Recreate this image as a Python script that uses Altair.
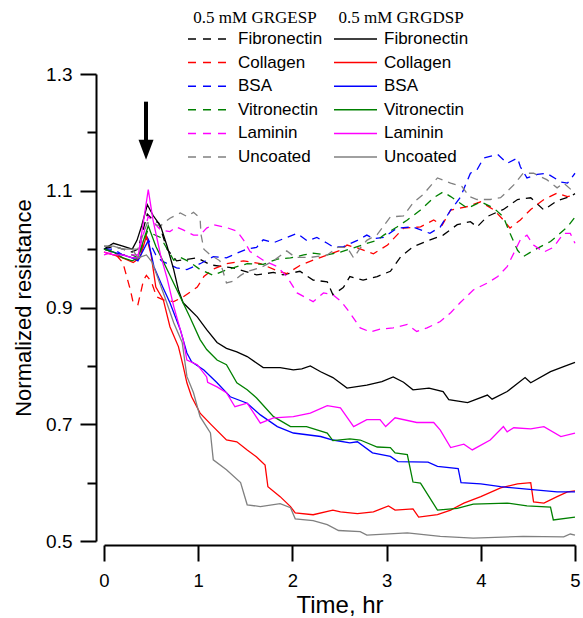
import altair as alt
import pandas as pd

coatings = ["Fibronectin", "Collagen", "BSA", "Vitronectin", "Laminin", "Uncoated"]
colors = ["#000000", "#ff0000", "#0000ff", "#008000", "#ff00ff", "#808080"]

# ---------------- 0.5 mM GRGDSP (solid) ----------------
dsp_fibronectin_t = [0, 0.1, 0.2, 0.3, 0.35, 0.4, 0.46, 0.52, 0.6, 0.67, 0.74, 0.79, 0.84, 0.99, 1.09,
                     1.2, 1.3, 1.41, 1.52, 1.69, 1.87, 2.01, 2.1, 2.19, 2.3, 2.43, 2.58, 2.79, 2.95, 3.07,
                     3.18, 3.28, 3.45, 3.6, 3.66, 3.86, 4.07, 4.12, 4.28, 4.47, 4.53, 4.74, 4.9, 5.0]
dsp_fibronectin_v = [1.0, 1.01, 1.005, 1.0, 1.015, 1.04, 1.076, 1.058, 1.04, 1.005, 0.965, 0.93, 0.908, 0.884, 0.862,
                     0.84, 0.83, 0.824, 0.816, 0.797, 0.797, 0.793, 0.795, 0.80, 0.79, 0.78, 0.762, 0.767, 0.773, 0.781,
                     0.772, 0.759, 0.762, 0.756, 0.742, 0.737, 0.75, 0.743, 0.756, 0.78, 0.771, 0.79, 0.80, 0.806]

dsp_collagen_t = [0, 0.1, 0.2, 0.31, 0.38, 0.45, 0.5, 0.55, 0.63, 0.70, 0.79, 0.84, 0.88, 0.93, 1.02,
                  1.14, 1.3, 1.41, 1.52, 1.62, 1.71, 1.74, 1.87, 1.98, 2.03, 2.22, 2.43, 2.51, 2.69, 2.86,
                  3.02, 3.09, 3.28, 3.34, 3.54, 3.68, 3.82, 4.0, 4.21, 4.39, 4.53, 4.56, 4.67, 4.81, 4.92, 5.0]
dsp_collagen_v = [0.995, 0.99, 0.985, 0.977, 0.985, 1.022, 0.99, 0.935, 0.913, 0.867, 0.833, 0.80, 0.771, 0.747, 0.719,
                  0.699, 0.673, 0.67, 0.656, 0.644, 0.63, 0.593, 0.576, 0.559, 0.548, 0.545, 0.553, 0.55, 0.547, 0.55,
                  0.56, 0.553, 0.555, 0.541, 0.545, 0.553, 0.565, 0.576, 0.591, 0.598, 0.60, 0.567, 0.565, 0.576, 0.584, 0.586]

dsp_bsa_t = [0, 0.1, 0.2, 0.3, 0.36, 0.47, 0.53, 0.61, 0.70, 0.81, 0.88, 0.93, 1.06, 1.2, 1.34,
             1.52, 1.66, 1.84, 2.01, 2.3, 2.43, 2.61, 2.69, 2.85, 3.04, 3.12, 3.44, 3.54, 3.76, 3.79,
             4.0, 4.21, 4.49, 4.81, 5.0]
dsp_bsa_v = [1.0, 0.995, 0.99, 0.985, 0.98, 1.015, 0.97, 0.94, 0.908, 0.862, 0.822, 0.807, 0.793, 0.771, 0.747,
             0.736, 0.716, 0.696, 0.685, 0.679, 0.673, 0.668, 0.67, 0.651, 0.645, 0.636, 0.635, 0.628, 0.624, 0.60,
             0.598, 0.593, 0.589, 0.584, 0.584]

dsp_vitronectin_t = [0, 0.1, 0.2, 0.3, 0.36, 0.47, 0.55, 0.67, 0.81, 0.91, 1.02, 1.09, 1.2, 1.3, 1.41,
                     1.52, 1.62, 1.8, 1.98, 2.15, 2.37, 2.43, 2.61, 2.72, 2.9, 3.04, 3.09, 3.22, 3.28, 3.36,
                     3.54, 3.75, 3.92, 4.28, 4.49, 4.74, 4.77, 5.0]
dsp_vitronectin_v = [1.0, 0.995, 0.985, 0.98, 0.985, 1.04, 1.005, 0.965, 0.918, 0.884, 0.845, 0.828, 0.81, 0.802, 0.771,
                     0.759, 0.745, 0.713, 0.696, 0.696, 0.685, 0.672, 0.675, 0.673, 0.661, 0.66, 0.651, 0.648, 0.601, 0.599,
                     0.553, 0.556, 0.563, 0.565, 0.56, 0.558, 0.536, 0.541]

dsp_laminin_t = [0, 0.1, 0.2, 0.3, 0.36, 0.47, 0.52, 0.6, 0.67, 0.74, 0.84, 0.88, 0.99, 1.09, 1.1,
                 1.2, 1.3, 1.39, 1.52, 1.66, 1.8, 2.01, 2.19, 2.37, 2.51, 2.65, 2.79, 2.93, 2.99, 3.09,
                 3.32, 3.5, 3.57, 3.68, 3.82, 3.91, 4.1, 4.24, 4.28, 4.35, 4.53, 4.67, 4.85, 5.0]
dsp_laminin_v = [0.995, 0.99, 0.99, 0.985, 0.985, 1.102, 1.05, 0.99, 0.95, 0.902, 0.845, 0.81, 0.802, 0.781, 0.772,
                 0.764, 0.754, 0.73, 0.736, 0.702, 0.711, 0.713, 0.719, 0.732, 0.728, 0.696, 0.708, 0.708, 0.696, 0.711,
                 0.703, 0.703, 0.69, 0.66, 0.666, 0.656, 0.673, 0.696, 0.687, 0.694, 0.692, 0.696, 0.679, 0.685]

dsp_uncoated_t = [0, 0.1, 0.2, 0.3, 0.36, 0.45, 0.51, 0.63, 0.74, 0.83, 0.88, 0.95, 1.02, 1.13, 1.16,
                  1.3, 1.45, 1.52, 1.66, 1.87, 1.98, 2.03, 2.22, 2.37, 2.49, 2.72, 2.79, 3.22, 3.57, 3.92,
                  4.45, 4.88, 4.95, 5.0]
dsp_uncoated_v = [1.005, 1.005, 1.0, 1.0, 0.985, 0.99, 0.978, 0.925, 0.874, 0.84, 0.782, 0.754, 0.713, 0.685, 0.639,
                  0.622, 0.60, 0.562, 0.559, 0.564, 0.557, 0.538, 0.535, 0.528, 0.518, 0.516, 0.51, 0.514, 0.508, 0.505,
                  0.508, 0.507, 0.512, 0.51]

# ---------------- 0.5 mM GRGESP (dashed) ----------------
esp_fibronectin_t = [0, 0.1, 0.2, 0.3, 0.36, 0.46, 0.52, 0.58, 0.67, 0.77, 0.99, 1.13, 1.37, 1.62, 1.8,
                     1.9, 2.08, 2.22, 2.37, 2.43, 2.54, 2.61, 2.75, 2.9, 3.04, 3.15, 3.28, 3.43, 3.6, 3.75,
                     3.89, 3.96, 4.07, 4.24, 4.39, 4.53, 4.67, 4.81, 4.95, 5.0]
esp_fibronectin_v = [1.0, 1.005, 1.0, 0.995, 1.0, 1.06, 1.05, 1.045, 1.0, 0.98, 0.985, 0.973, 0.968, 0.956, 0.96,
                     0.956, 0.962, 0.947, 0.944, 0.922, 0.934, 0.953, 0.947, 0.953, 0.962, 0.987, 1.004, 1.014, 1.024, 1.042,
                     1.047, 1.038, 1.056, 1.068, 1.085, 1.088, 1.067, 1.083, 1.09, 1.095]

esp_collagen_t = [0, 0.1, 0.2, 0.28, 0.31, 0.36, 0.42, 0.45, 0.5, 0.56, 0.63, 0.74, 0.84, 0.99, 1.06,
                  1.16, 1.3, 1.48, 1.66, 1.84, 1.94, 2.08, 2.22, 2.37, 2.51, 2.58, 2.69, 2.86, 3.01, 3.18,
                  3.36, 3.5, 3.59, 3.68, 3.86, 4.0, 4.14, 4.24, 4.31, 4.42, 4.53, 4.67, 4.81, 4.92, 5.0]
esp_collagen_v = [1.0, 0.995, 0.977, 0.93, 0.908, 0.905, 0.947, 0.955, 0.945, 0.918, 0.913, 0.91, 0.918, 0.935, 0.953,
                  0.966, 0.975, 0.98, 0.975, 0.963, 0.958, 0.972, 0.981, 0.99, 0.998, 1.007, 1.002, 0.992, 1.007, 1.036,
                  1.038, 1.05, 1.041, 1.067, 1.073, 1.081, 1.067, 1.05, 1.036, 1.05, 1.068, 1.085, 1.096, 1.09, 1.093]

esp_bsa_t = [0, 0.1, 0.2, 0.3, 0.36, 0.46, 0.55, 0.61, 0.77, 0.88, 1.02, 1.16, 1.3, 1.41, 1.52,
             1.62, 1.69, 1.8, 1.94, 2.05, 2.16, 2.26, 2.37, 2.43, 2.54, 2.69, 2.79, 2.86, 2.97, 3.11,
             3.28, 3.46, 3.57, 3.68, 3.78, 3.89, 3.96, 4.03, 4.18, 4.28, 4.39, 4.42, 4.49, 4.6, 4.7,
             4.85, 4.92, 5.0]
esp_bsa_v = [1.0, 1.0, 0.99, 0.985, 0.985, 1.02, 0.99, 0.98, 0.968, 0.965, 0.975, 0.987, 0.985, 0.993, 1.0,
             1.003, 1.016, 1.011, 1.02, 1.027, 1.014, 1.02, 1.01, 1.004, 1.004, 1.015, 1.024, 1.018, 1.02, 1.036,
             1.038, 1.027, 1.038, 1.067, 1.088, 1.13, 1.136, 1.156, 1.162, 1.147, 1.156, 1.141, 1.122, 1.128, 1.13,
             1.115, 1.113, 1.13]

esp_vitronectin_t = [0, 0.1, 0.2, 0.3, 0.36, 0.46, 0.6, 0.74, 0.81, 0.91, 1.02, 1.16, 1.26, 1.37, 1.52,
                     1.69, 1.84, 1.98, 2.12, 2.22, 2.37, 2.51, 2.65, 2.79, 2.9, 2.97, 3.11, 3.22, 3.36, 3.5,
                     3.6, 3.68, 3.75, 3.86, 4.0, 4.14, 4.24, 4.31, 4.39, 4.45, 4.55, 4.74, 4.92, 5.0]
esp_vitronectin_v = [1.0, 0.995, 0.99, 0.99, 0.985, 1.03, 1.02, 0.981, 0.986, 0.978, 0.965, 0.955, 0.962, 0.968, 0.975,
                     0.974, 0.983, 0.985, 0.99, 0.993, 0.99, 0.995, 1.002, 1.01, 1.015, 1.024, 1.038, 1.05, 1.067, 1.088,
                     1.098, 1.09, 1.082, 1.07, 1.081, 1.07, 1.055, 1.027, 0.998, 0.987, 0.997, 1.013, 1.038, 1.055]

esp_laminin_t = [0, 0.1, 0.2, 0.3, 0.36, 0.47, 0.6, 0.7, 0.77, 0.84, 0.95, 1.02, 1.09, 1.16, 1.3,
                 1.41, 1.48, 1.55, 1.69, 1.84, 1.94, 2.05, 2.22, 2.33, 2.43, 2.52, 2.61, 2.72, 2.83, 2.93,
                 3.07, 3.22, 3.32, 3.43, 3.57, 3.68, 3.78, 3.92, 4.07, 4.18, 4.28, 4.35, 4.42, 4.49, 4.56,
                 4.67, 4.77, 4.88, 4.95, 5.0]
esp_laminin_v = [0.99, 0.995, 0.99, 0.99, 0.99, 1.056, 1.033, 1.03, 1.038, 1.033, 1.024, 1.024, 1.036, 1.042, 1.037,
                 1.031, 1.016, 0.996, 0.981, 0.97, 0.953, 0.925, 0.91, 0.925, 0.922, 0.91, 0.891, 0.865, 0.858, 0.863,
                 0.865, 0.871, 0.859, 0.865, 0.876, 0.891, 0.908, 0.93, 0.942, 0.953, 0.97, 0.993, 1.016, 1.024, 1.007,
                 0.995, 1.003, 1.027, 1.027, 1.01]

esp_uncoated_t = [0, 0.1, 0.2, 0.3, 0.36, 0.46, 0.6, 0.7, 0.81, 0.88, 0.95, 1.02, 1.03, 1.06, 1.13,
                  1.23, 1.3, 1.37, 1.45, 1.52, 1.66, 1.8, 1.94, 2.03, 2.2, 2.37, 2.48, 2.58, 2.65, 2.72,
                  2.79, 2.9, 3.04, 3.18, 3.28, 3.39, 3.54, 3.68, 3.8, 3.88, 3.96, 4.1, 4.21, 4.35, 4.45,
                  4.56, 4.7, 4.81, 4.88, 5.0]
esp_uncoated_v = [1.005, 1.005, 1.0, 1.0, 1.0, 1.045, 1.04, 1.053, 1.062, 1.056, 1.063, 1.053, 1.025, 1.0, 0.99,
                  0.98, 0.942, 0.945, 0.955, 0.962, 0.968, 0.98, 0.997, 0.986, 0.986, 0.99, 1.003, 1.003, 0.985, 1.002,
                  1.015, 1.025, 1.055, 1.057, 1.079, 1.094, 1.122, 1.113, 1.107, 1.09, 1.085, 1.085, 1.088, 1.11, 1.13,
                  1.13, 1.119, 1.105, 1.113, 1.096]

# arrow marking the peptide addition
arrow_t = [0.446]
arrow_top = [1.2526]
arrow_shaft_end = [1.186]
arrow_head_center = [1.1702]

x_ticks = [0, 0.5, 1, 1.5, 2, 2.5, 3, 3.5, 4, 4.5, 5]
y_ticks = [0.5, 0.6, 0.7, 0.8, 0.9, 1.0, 1.1, 1.2, 1.3]


def build(series):
    rows = []
    for name, (ts, vs) in series.items():
        for t, v in zip(ts, vs, strict=True):
            rows.append({"t": t, "v": v, "coating": name})
    return pd.DataFrame(rows)


esp_df = build({
    "Fibronectin": (esp_fibronectin_t, esp_fibronectin_v),
    "Collagen": (esp_collagen_t, esp_collagen_v),
    "BSA": (esp_bsa_t, esp_bsa_v),
    "Vitronectin": (esp_vitronectin_t, esp_vitronectin_v),
    "Laminin": (esp_laminin_t, esp_laminin_v),
    "Uncoated": (esp_uncoated_t, esp_uncoated_v),
})
dsp_df = build({
    "Fibronectin": (dsp_fibronectin_t, dsp_fibronectin_v),
    "Collagen": (dsp_collagen_t, dsp_collagen_v),
    "BSA": (dsp_bsa_t, dsp_bsa_v),
    "Vitronectin": (dsp_vitronectin_t, dsp_vitronectin_v),
    "Laminin": (dsp_laminin_t, dsp_laminin_v),
    "Uncoated": (dsp_uncoated_t, dsp_uncoated_v),
})
arrow_df = pd.DataFrame({"t": arrow_t, "y1": arrow_top, "y2": arrow_shaft_end, "yh": arrow_head_center})

SANS = "Liberation Sans"
SERIF = "Liberation Serif"

xscale = alt.Scale(domain=[0, 5], nice=False, zero=False)
yscale = alt.Scale(domain=[0.5, 1.3], nice=False, zero=False)

x_major = "abs(datum.value - round(datum.value)) < 0.01"
y_major = "abs(round(datum.value * 10)) % 2 == 1"

x_axis = alt.Axis(values=x_ticks, format="d",
                  tickSize={"condition": {"test": x_major, "value": 16}, "value": 8},
                  tickWidth=2, tickColor="black",
                  domainWidth=2, domainColor="black", grid=False, offset=4,
                  labelExpr=f"{x_major} ? format(datum.value, 'd') : ''",
                  labelFont=SANS, labelFontSize=18.5, labelColor="black", labelPadding=10,
                  labelFlush=False, labelOverlap=False,
                  title="Time, hr", titleFont=SANS, titleFontSize=24, titleFontWeight="normal",
                  titleColor="black", titleBaseline="alphabetic", titleY=67)
y_axis = alt.Axis(values=y_ticks,
                  tickSize={"condition": {"test": y_major, "value": 16}, "value": 9},
                  tickWidth=2, tickColor="black",
                  domainWidth=2, domainColor="black", grid=False, offset=8, orient="left",
                  labelExpr=f"{y_major} ? format(datum.value, '.1f') : ''",
                  labelFont=SANS, labelFontSize=19, labelColor="black", labelPadding=8,
                  labelOverlap=False,
                  title="Normalized resistance", titleFont=SANS, titleFontSize=22,
                  titleFontWeight="normal", titleColor="black", titleBaseline="alphabetic",
                  titleAngle=270, titleAlign="center", titleX=-66, titleY=233.5)


def legend(title, x, size, dash, label_offset):
    kw = dict(title=title, orient="none", legendX=x, legendY=-64, direction="vertical", padding=0,
              titleFont=SERIF, titleFontSize=17, titleFontWeight="normal", titleColor="black",
              titleAnchor="middle", titlePadding=3.5,
              labelFont=SANS, labelFontSize=17, labelColor="black", labelOffset=label_offset,
              symbolType="stroke", symbolSize=size, symbolStrokeWidth=1.5,
              clipHeight=17, rowPadding=5.6)
    if dash:
        kw["symbolDash"] = dash
    return alt.Legend(**kw)


dashed = alt.Chart(esp_df).mark_line(strokeDash=[8, 6], strokeWidth=1.3).encode(
    x=alt.X("t:Q", scale=xscale, axis=x_axis),
    y=alt.Y("v:Q", scale=yscale, axis=y_axis),
    color=alt.Color("coating:N", scale=alt.Scale(domain=coatings, range=colors),
                    legend=legend("0.5 mM GRGESP", 83, 1600, [8, 7], 9)),
)

solid = alt.Chart(dsp_df).mark_line(strokeWidth=1.3).encode(
    x=alt.X("t:Q", scale=xscale),
    y=alt.Y("v:Q", scale=yscale),
    color=alt.Color("coating:N", scale=alt.Scale(domain=coatings, range=colors),
                    legend=legend("0.5 mM GRGDSP", 229, 1849, None, 6)),
)

arrow_shaft = alt.Chart(arrow_df).mark_rule(strokeWidth=4, color="black").encode(
    x=alt.X("t:Q", scale=xscale),
    y=alt.Y("y1:Q", scale=yscale),
    y2="y2:Q",
)
arrow_head = alt.Chart(arrow_df).mark_point(shape="M-0.75,-1L0.75,-1L0,1Z", filled=True, size=400,
                                            color="black", opacity=1).encode(
    x=alt.X("t:Q", scale=xscale),
    y=alt.Y("yh:Q", scale=yscale),
)

chart = alt.layer(dashed, solid, arrow_shaft, arrow_head).resolve_scale(
    color="independent"
).properties(
    width=471, height=467,
    padding={"left": 104, "top": 74, "right": 8, "bottom": 77},
    autosize=alt.AutoSizeParams(type="none"),
    background="white",
).configure_view(strokeWidth=0)

chart.save("out.html", embed_options={"renderer": "svg", "actions": False})
